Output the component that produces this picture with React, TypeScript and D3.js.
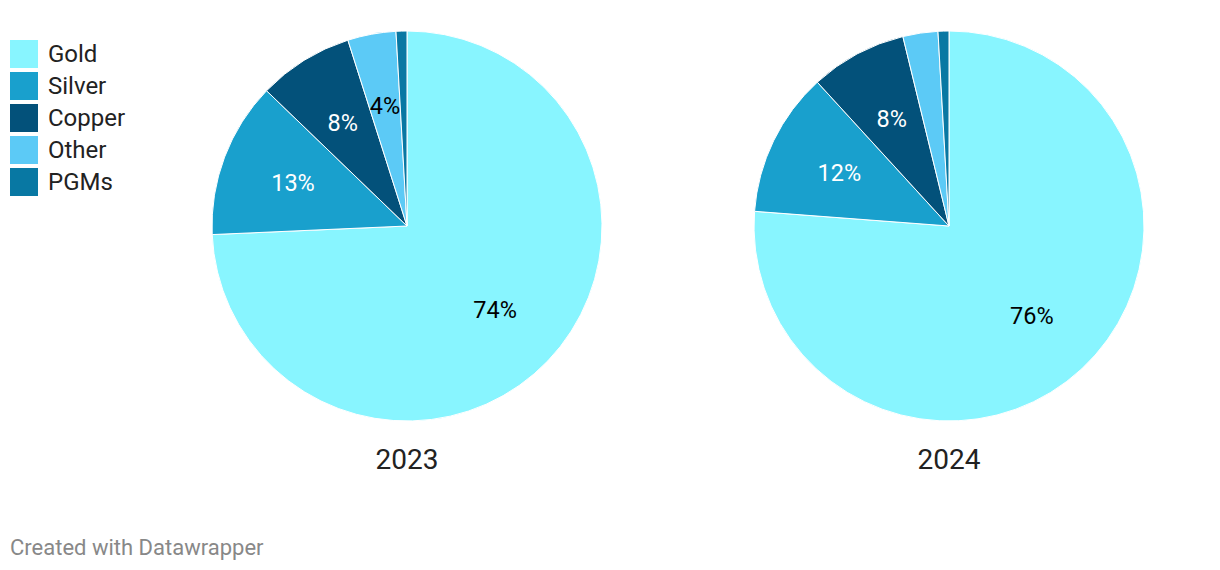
import React from "react";
import * as d3 from "d3";

const categories = ["Gold", "Silver", "Copper", "Other", "PGMs"];
const colors = ["#88f5ff", "#19a0cd", "#03517a", "#5ccaf6", "#0878a3"];
const labelColors = ["#000", "#fff", "#fff", "#000", "#fff"];
const years = ["2023", "2024"];
const values2023 = [74.3, 12.9, 7.9, 4.0, 0.9];
const values2024 = [76.2, 12.0, 8.0, 2.9, 0.9];
const labels2023 = ["74%", "13%", "8%", "4%", ""];
const labels2024 = ["76%", "12%", "8%", "", ""];

const W = 1220;
const H = 570;

export default function App() {
  const r = 195;
  const arc = d3.arc<any>().innerRadius(0).outerRadius(r);
  const labelArc = d3.arc<any>().innerRadius(r * 0.625).outerRadius(r * 0.625);
  const pie = d3.pie<number>().sort(null).value((d) => d);
  const xs = d3.scalePoint<string>().domain(years).range([407, 949]);
  const cy = 226;
  const series = [values2023, values2024];
  const labels = [labels2023, labels2024];
  const font = "Roboto, 'Noto Sans', sans-serif";

  return (
    <svg width={W} height={H} style={{ position: "absolute", left: 0, top: 0 }} fontFamily={font}>
      <rect width={W} height={H} fill="#fff" />
      {years.map((y, yi) => {
        const arcs = pie(series[yi]);
        const cx = xs(y)!;
        return (
          <g key={y} transform={`translate(${cx},${cy})`}>
            {arcs.map((a, i) => (
              <path key={i} d={arc(a)!} fill={colors[i]} stroke="#fff" strokeWidth={1} />
            ))}
            {arcs.map((a, i) => {
              const [lx, ly] = labelArc.centroid(a);
              return labels[yi][i] ? (
                <text key={"l" + i} x={lx} y={ly} textAnchor="middle" dy="0.35em" fontSize={23.5} fill={labelColors[i]}>
                  {labels[yi][i]}
                </text>
              ) : null;
            })}
            <text x={0} y={233} textAnchor="middle" dy="0.35em" fontSize={28} fill="#222">
              {y}
            </text>
          </g>
        );
      })}
      <g>
        {categories.map((c, i) => (
          <g key={c} transform={`translate(10,${40 + i * 32})`}>
            <rect width={28} height={28} fill={colors[i]} />
            <text x={38} y={14} dy="0.35em" fontSize={24} fill="#222">
              {c}
            </text>
          </g>
        ))}
      </g>
      <text x={10} y={547} dy="0.35em" fontSize={22} fill="#888">
        Created with Datawrapper
      </text>
    </svg>
  );
}
